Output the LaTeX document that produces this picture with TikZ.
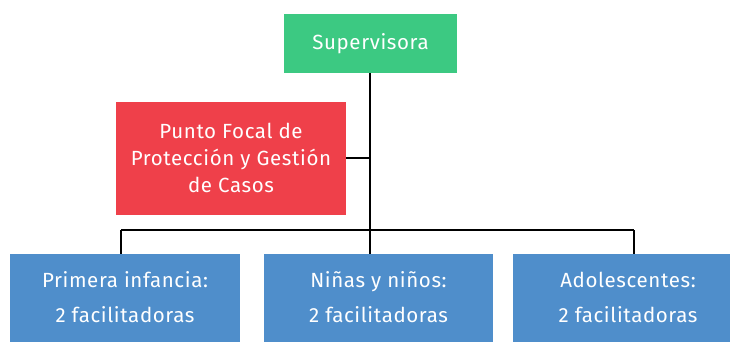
\documentclass[tikz,border=0pt]{standalone}
\usepackage{fontspec}
\setmainfont{Fira Sans}[LetterSpace=3]
\definecolor{sgreen}{RGB}{60,201,130}
\definecolor{sred}{RGB}{239,64,74}
\definecolor{sblue}{RGB}{79,142,203}
\begin{document}
\begin{tikzpicture}[x=1pt,y=-1pt,
  box/.style={draw=none,inner sep=0pt,text=white,align=center,font=\fontsize{20.5}{27}\selectfont},
  lowbox/.style={box,font=\fontsize{20.5}{35}\selectfont},
  link/.style={draw=black,line width=2pt}]
\useasboundingbox (0,0) rectangle (730,342);
\fill[sgreen] (284,14) rectangle (457,73);
\node[box] (sup) at (370.5,43.5) {Supervisora};
\fill[sred] (116,102) rectangle (346,215);
\node[box] (pf) at (231,158) {Punto Focal de\\Protección y Gestión\\de Casos};
\fill[sblue] (10,254) rectangle (240,342);
\node[lowbox] (b1) at (125,297) {Primera infancia:\\2 facilitadoras};
\fill[sblue] (264,254) rectangle (493,342);
\node[lowbox] (b2) at (378.5,297) {Niñas y niños:\\2 facilitadoras};
\fill[sblue] (513,254) rectangle (743,342);
\node[lowbox] (b3) at (628,297) {Adolescentes:\\2 facilitadoras};
\coordinate (top) at (370,73);
\coordinate (bar) at (370,230);
\coordinate (pfr) at (346,158);
\coordinate (l1) at (121,230);
\coordinate (l3) at (634,230);
\draw[link] (top) -- (bar);
\draw[link] (pfr) -- (370,158);
\draw[link] (l1) -- (l3);
\draw[link] (l1) -- (121,254);
\draw[link] (bar) -- (370,254);
\draw[link] (l3) -- (634,254);
\end{tikzpicture}
\end{document}
